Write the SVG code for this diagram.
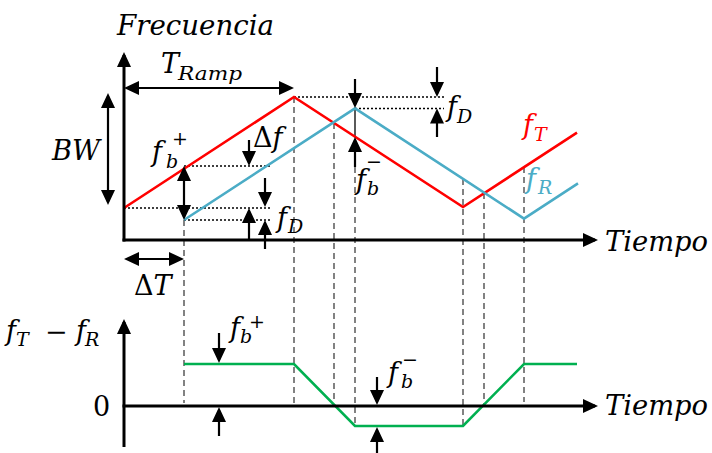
<svg xmlns="http://www.w3.org/2000/svg" width="712" height="453" viewBox="0 0 712 453">
<style>
.ax{stroke:#000;stroke-width:3;fill:none}
.ar{stroke:#000;stroke-width:2.2;fill:none}
.dash{stroke:#404040;stroke-width:1.3;stroke-dasharray:6 4;fill:none}
.dot{stroke:#000;stroke-width:1.5;stroke-dasharray:2 2;fill:none}
.red{stroke:#FF0000;stroke-width:2.6;fill:none}
.blue{stroke:#4BACC6;stroke-width:2.6;fill:none}
.green{stroke:#00B050;stroke-width:2.6;fill:none}
text{font-family:"DejaVu Serif","Liberation Serif",serif;font-style:italic;font-size:27px;fill:#000}
.s{font-size:19px}
.sg{font-size:19px;font-style:normal}
.u{font-style:normal}
.tr{fill:#FF0000}
.tb{fill:#4BACC6}
</style>
<defs>
<marker id="ah" markerUnits="userSpaceOnUse" viewBox="0 0 15 14" markerWidth="15" markerHeight="14" refX="12" refY="7" orient="auto-start-reverse">
<path d="M0,0 L15,7 L0,14 z" fill="#000"/>
</marker>
</defs>

<g id="guides">
<line class="dash" x1="184" y1="220" x2="184" y2="403"/>
<line class="dash" x1="294" y1="97" x2="294" y2="403"/>
<line class="dash" x1="334" y1="123" x2="334" y2="403"/>
<line x1="355" y1="108" x2="355" y2="137" stroke="#000" stroke-width="1.3"/>
<line class="dash" x1="355" y1="167" x2="355" y2="426"/>
<line class="dash" x1="463" y1="179" x2="463" y2="426"/>
<line class="dash" x1="484" y1="193" x2="484" y2="405"/>
<line class="dash" x1="524" y1="167" x2="524" y2="402"/>
<line class="dot" x1="294" y1="97" x2="444" y2="97"/>
<line class="dot" x1="355" y1="108.5" x2="444" y2="108.5"/>
<line class="dot" x1="184" y1="166" x2="272" y2="166"/>
<line class="dot" x1="124" y1="208" x2="272" y2="208"/>
<line class="dot" x1="184" y1="220" x2="272" y2="220"/>
</g>

<g id="curves">
<polyline class="red" points="124,208 294,97 463,207 577,132.6"/>
<polyline class="blue" points="184,220 355,108.3 524,218.6 578,183.4"/>
<polyline class="green" points="184,364 294,364 355,426 463,426 524,364 577,364"/>
</g>

<g id="axes">
<line class="ax" x1="124" y1="241.5" x2="124" y2="55" marker-end="url(#ah)"/>
<line class="ax" x1="122.5" y1="240" x2="595" y2="240" marker-end="url(#ah)"/>
<line class="ax" x1="124" y1="447" x2="124" y2="322" marker-end="url(#ah)"/>
<line class="ax" x1="122.5" y1="406" x2="595" y2="406" marker-end="url(#ah)"/>
</g>

<g id="connectors">
<line class="ar" x1="127" y1="88" x2="291" y2="88" marker-start="url(#ah)" marker-end="url(#ah)"/>
<line class="ar" x1="108" y1="96" x2="108" y2="202" marker-start="url(#ah)" marker-end="url(#ah)"/>
<line class="ar" x1="184" y1="169" x2="184" y2="217" marker-start="url(#ah)" marker-end="url(#ah)"/>
<line class="ar" x1="127" y1="259" x2="181" y2="259" marker-start="url(#ah)" marker-end="url(#ah)"/>
<line class="ar" x1="249" y1="140" x2="249" y2="163" marker-end="url(#ah)"/>
<line class="ar" x1="249" y1="240" x2="249" y2="211" marker-end="url(#ah)"/>
<line class="ar" x1="265" y1="178" x2="265" y2="204" marker-end="url(#ah)"/>
<line class="ar" x1="265" y1="249" x2="265" y2="223" marker-end="url(#ah)"/>
<line class="ar" x1="437" y1="67" x2="437" y2="94" marker-end="url(#ah)"/>
<line class="ar" x1="437" y1="137" x2="437" y2="111.5" marker-end="url(#ah)"/>
<line class="ar" x1="355" y1="79" x2="355" y2="105" marker-end="url(#ah)"/>
<line class="ar" x1="355" y1="167" x2="355" y2="140" marker-end="url(#ah)"/>
<line class="ar" x1="219" y1="333" x2="219" y2="360" marker-end="url(#ah)"/>
<line class="ar" x1="219" y1="436" x2="219" y2="410" marker-end="url(#ah)"/>
<line class="ar" x1="377" y1="377" x2="377" y2="402" marker-end="url(#ah)"/>
<line class="ar" x1="377" y1="453" x2="377" y2="430" marker-end="url(#ah)"/>
</g>

<g id="labels">
<text x="117" y="35" textLength="157" lengthAdjust="spacingAndGlyphs">Frecuencia</text>
<text x="161" y="73">T</text><text class="s" x="178" y="80" textLength="64" lengthAdjust="spacingAndGlyphs">Ramp</text>
<text x="52" y="160" textLength="48" lengthAdjust="spacingAndGlyphs">BW</text>
<text x="152" y="161">f</text><text class="s" x="166" y="168">b</text><text class="sg" x="172" y="145">+</text>
<text x="253" y="147"><tspan class="u">Δ</tspan>f</text>
<text x="277" y="227">f</text><text class="s" x="288" y="233">D</text>
<text x="447" y="116">f</text><text class="s" x="457" y="123">D</text>
<text class="tr" x="523" y="134">f</text><text class="s tr" x="534" y="141">T</text>
<text class="tb" x="526" y="188">f</text><text class="s tb" x="538" y="194">R</text>
<text x="356" y="189">f</text><text class="s" x="367" y="195">b</text><text class="sg" x="366" y="168">−</text>
<text x="605" y="251" textLength="103" lengthAdjust="spacingAndGlyphs">Tiempo</text>
<text x="134" y="295"><tspan class="u">Δ</tspan>T</text>
<text x="6" y="340">f</text><text class="s" x="16" y="346">T</text><text class="u" x="45" y="341">−</text><text x="76" y="340">f</text><text class="s" x="85" y="346">R</text>
<text class="u" x="93" y="416">0</text>
<text x="230" y="337">f</text><text class="s" x="240" y="343">b</text><text class="sg" x="249" y="328">+</text>
<text x="388" y="382">f</text><text class="s" x="401" y="388">b</text><text class="sg" x="402" y="366">−</text>
<text x="605" y="415" textLength="103" lengthAdjust="spacingAndGlyphs">Tiempo</text>
</g>
</svg>
